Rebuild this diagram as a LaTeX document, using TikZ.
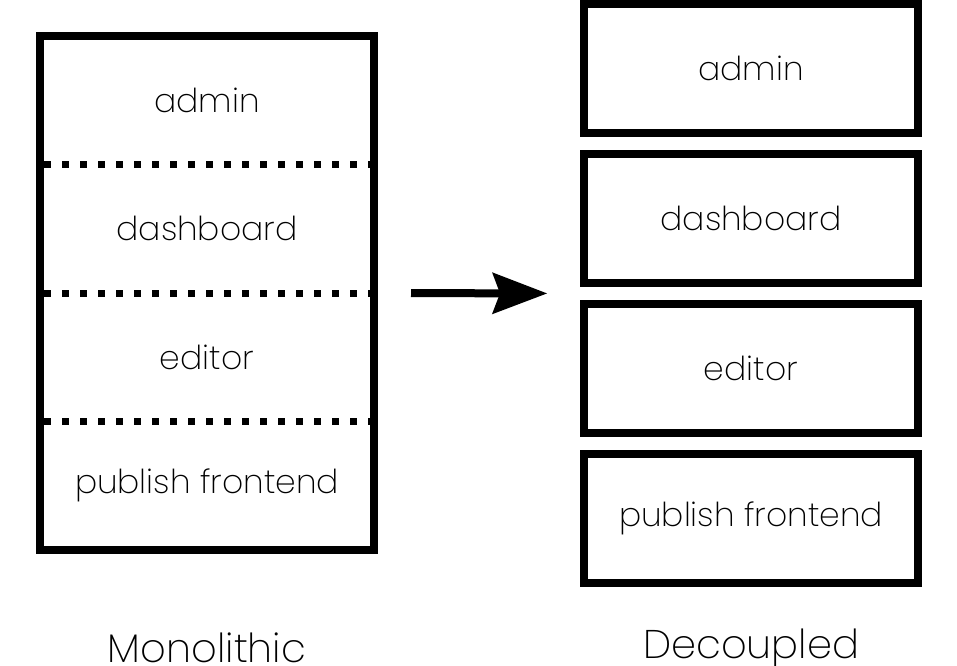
\documentclass[tikz,border=0pt]{standalone}
\usepackage{fontspec}
\setmainfont{Poppins}[UprightFont=* ExtraLight]
\usetikzlibrary{arrows.meta, positioning, fit}

\begin{document}
\begin{tikzpicture}[x=1pt, y=-1pt, line width=8pt,
                    part/.style= {rectangle,
                      outer sep=0pt,
                      inner sep=0pt,
                      font=\fontsize{33}{40}\selectfont,
                      minimum width=334pt,
                      minimum height=128.5pt},
                    service/.style= {rectangle,
                      draw,
                      outer sep=0pt,
                      inner sep=0pt,
                      font=\fontsize{33}{40}\selectfont,
                      minimum width=334pt,
                      minimum height=129pt},
                    seam/.style= {line width=7pt,
                      dash pattern=on 7pt off 11pt,
                      dash phase=14pt},
                    caption/.style= {anchor=base,
                      font=\fontsize{40}{46}\selectfont}]

  \useasboundingbox (0,0) rectangle (957,665);

  % monolithic side
  \node[part] (admin) at (207,100.25) {admin};
  \node[part] (dash) [below=0pt of admin] {dashboard};
  \node[part] (edit) [below=0pt of dash] {editor};
  \node[part] (front) [below=0pt of edit] {publish frontend};
  \node[draw, fit=(admin)(front), inner sep=0pt, outer sep=0pt] (mono) {};
  \draw[seam] (admin.south west) -- (admin.south east);
  \draw[seam] (dash.south west) -- (dash.south east);
  \draw[seam] (edit.south west) -- (edit.south east);
  \node[caption] (monolabel) at (207,662) {Monolithic};

  % decoupled side
  \node[service] (sadmin) at (751,68.5) {admin};
  \node[service] (sdash) [below=21pt of sadmin] {dashboard};
  \node[service] (sedit) [below=21pt of sdash] {editor};
  \node[service] (sfront) [below=21pt of sedit] {publish frontend};
  \node[fit=(sadmin)(sfront), inner sep=0pt, outer sep=0pt] (deco) {};
  \node[caption] (decolabel) at (751,658) {Decoupled};

  \draw[-{Stealth[length=55pt, width=42pt, inset=8pt, line width=0pt]},
        shorten <=37pt, shorten >=37pt] (mono.east) -- (deco.west);
\end{tikzpicture}
\end{document}
